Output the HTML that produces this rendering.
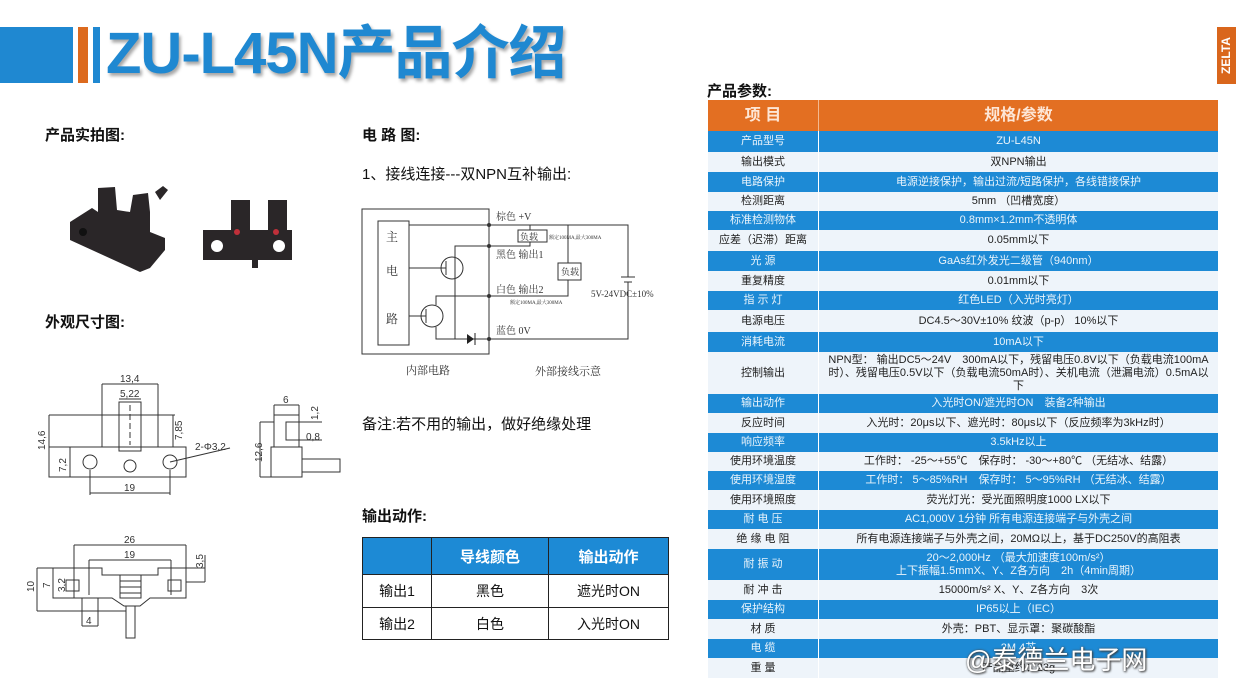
<!DOCTYPE html>
<html><head><meta charset="utf-8"><style>
*{margin:0;padding:0;box-sizing:border-box}
body{width:1242px;height:699px;background:#fff;position:relative;overflow:hidden;font-family:"Liberation Sans","Noto Sans CJK SC",sans-serif;color:#111}
.a{position:absolute;white-space:nowrap}
.h{font-weight:bold;font-size:15px}
.tr{position:absolute;left:708px;width:510px;display:flex;font-size:11px;color:#222}
.tr div{display:flex;align-items:center;justify-content:center;text-align:center;line-height:13px}
.tr .c1{width:111px;border-right:1px solid #fff}
.tr .c2{flex:1;padding:0 6px}
.b{background:#1d8ad5;color:#eaf4fb}
.l{background:#eef4fa}
.ot{position:absolute;left:362px;top:537px;width:307px;height:103px;border:1px solid #222}
.ot div{position:absolute;display:flex;align-items:center;justify-content:center;font-size:14px}
</style></head><body>
<div class="a" style="left:0;top:27px;width:73px;height:56px;background:#1f88d1"></div>
<div class="a" style="left:78px;top:27px;width:10px;height:56px;background:#dc6a1e"></div>
<div class="a" style="left:93px;top:27px;width:7px;height:56px;background:#1f88d1"></div>
<div class="a" style="left:106px;top:20px;font-size:58px;font-weight:bold;color:#1f88d1;letter-spacing:-1px;text-shadow:2px 3px 3px rgba(0,0,0,.35);line-height:68px">ZU-L45N产品介绍</div>
<div class="a" style="left:1217px;top:27px;width:19px;height:57px;background:#d9661c"></div>
<div class="a" style="left:1198px;top:47px;width:57px;height:17px;transform:rotate(-90deg);color:#fff;font-weight:bold;font-size:12px;text-align:center;line-height:17px">ZELTA</div>

<div class="a h" style="left:45px;top:124px">产品实拍图:</div>
<div class="a h" style="left:45px;top:311px">外观尺寸图:</div>
<div class="a h" style="left:362px;top:124px">电 路 图:</div>
<div class="a" style="left:362px;top:163px;font-size:15px">1、接线连接---双NPN互补输出:</div>
<div class="a" style="left:362px;top:413px;font-size:15px">备注:若不用的输出，做好绝缘处理</div>
<div class="a h" style="left:362px;top:505px">输出动作:</div>
<div class="a h" style="left:707px;top:80px">产品参数:</div>

<svg class="a" style="left:0;top:0" width="700" height="699">
<g fill="#2a2628">
<polygon points="70,222 92,208 98,212 98,188 115,187 117,210 130,212 133,195 148,193 150,212 150,232 165,238 165,250 150,268 140,272 70,240"/>
<polygon points="155,192 163,186 168,190 160,200"/>
<rect x="203" y="230" width="89" height="30"/>
<rect x="231" y="200" width="19" height="32"/>
<rect x="268" y="200" width="19" height="32"/>
<rect x="252" y="258" width="6" height="10"/>
</g>
<circle cx="217" cy="246" r="6" fill="#fff"/><circle cx="279" cy="246" r="6" fill="#fff"/>
<circle cx="237" cy="232" r="3" fill="#c0303a"/><circle cx="276" cy="232" r="3" fill="#c0303a"/>
<circle cx="83" cy="232" r="4" fill="#111"/>
<g fill="none" stroke="#333" stroke-width="1">
<rect x="49" y="447" width="137" height="30"/>
<rect x="102" y="415" width="56" height="32"/>
<rect x="119" y="402" width="22" height="49"/>
<line x1="130" y1="405" x2="130" y2="445" stroke-dasharray="6,3"/>
<circle cx="90" cy="462" r="7"/><circle cx="130" cy="466" r="6"/><circle cx="170" cy="462" r="7"/>
<line x1="102" y1="384" x2="158" y2="384"/><line x1="102" y1="384" x2="102" y2="415"/><line x1="158" y1="384" x2="158" y2="415"/>
<line x1="119" y1="399" x2="141" y2="399"/>
<line x1="49" y1="415" x2="102" y2="415"/><line x1="49" y1="415" x2="49" y2="477"/>
<line x1="70" y1="447" x2="70" y2="477"/>
<line x1="90" y1="470" x2="90" y2="495"/><line x1="170" y1="470" x2="170" y2="495"/><line x1="90" y1="493" x2="170" y2="493"/>
<line x1="158" y1="415" x2="175" y2="415"/><line x1="173" y1="415" x2="173" y2="447"/>
<line x1="170" y1="462" x2="230" y2="448"/>
<rect x="274" y="415" width="25" height="32"/>
<rect x="271" y="447" width="31" height="30"/>
<rect x="286" y="422" width="13" height="18"/>
<rect x="302" y="459" width="38" height="13"/>
<line x1="274" y1="405" x2="299" y2="405"/><line x1="274" y1="405" x2="274" y2="415"/><line x1="299" y1="405" x2="299" y2="415"/>
<line x1="260" y1="422" x2="274" y2="422"/><line x1="260" y1="422" x2="260" y2="477"/><line x1="260" y1="477" x2="271" y2="477"/>
<line x1="299" y1="422" x2="322" y2="422"/><line x1="299" y1="440" x2="322" y2="440"/>
<polygon points="53,568 102,568 102,575 158,575 158,568 186,568 186,598 150,598 140,606 124,606 112,598 53,598"/>
<rect x="120" y="575" width="21" height="23"/>
<line x1="120" y1="581" x2="141" y2="581"/><line x1="120" y1="587" x2="141" y2="587"/><line x1="120" y1="593" x2="141" y2="593"/>
<rect x="66" y="580" width="13" height="11"/><rect x="168" y="580" width="13" height="11"/>
<rect x="126" y="606" width="9" height="32"/>
<line x1="74" y1="545" x2="186" y2="545"/><line x1="74" y1="545" x2="74" y2="598"/><line x1="186" y1="545" x2="186" y2="568"/>
<line x1="89" y1="560" x2="171" y2="560"/><line x1="89" y1="560" x2="89" y2="595"/><line x1="171" y1="560" x2="171" y2="595"/>
<line x1="37" y1="568" x2="37" y2="611"/><line x1="37" y1="611" x2="126" y2="611"/><line x1="37" y1="568" x2="53" y2="568"/>
<line x1="82" y1="598" x2="82" y2="626"/><line x1="98" y1="598" x2="98" y2="626"/><line x1="82" y1="626" x2="98" y2="626"/>
<line x1="186" y1="568" x2="205" y2="568"/><line x1="186" y1="582" x2="205" y2="582"/><line x1="205" y1="555" x2="205" y2="582"/>
<rect x="362" y="209" width="127" height="145"/>
<rect x="378" y="221" width="31" height="124"/>
<polyline points="409,225 628,225 628,277"/>
<line x1="621" y1="277" x2="635" y2="277"/><line x1="624" y1="282" x2="632" y2="282"/>
<polyline points="628,282 628,339 489,339"/>
<polyline points="530,225 530,230"/><rect x="518" y="230" width="29" height="12"/>
<polyline points="530,242 530,246 455,246 455,278"/>
<polyline points="568,225 568,263"/><rect x="558" y="263" width="23" height="17"/>
<polyline points="568,280 568,296 436,296 436,305"/>
<circle cx="452" cy="268" r="11"/><circle cx="432" cy="316" r="11"/>
<line x1="409" y1="268" x2="446" y2="268"/><line x1="409" y1="316" x2="426" y2="316"/>
<line x1="446" y1="261" x2="446" y2="275"/><line x1="426" y1="309" x2="426" y2="323"/>
<polyline points="455,278 455,339"/><polyline points="436,327 436,339 470,339"/>
<line x1="470" y1="339" x2="489" y2="339"/>
</g>
<polygon points="467,334 467,344 474,339" fill="#222"/><line x1="475" y1="333" x2="475" y2="345" stroke="#222"/>
<g fill="#333"><circle cx="489" cy="225" r="2"/><circle cx="489" cy="246" r="2"/><circle cx="489" cy="296" r="2"/><circle cx="489" cy="339" r="2"/></g>
<g font-family="Liberation Serif,Noto Serif CJK SC,serif" font-size="10" fill="#333">
<text x="496" y="220">棕色 +V</text><text x="496" y="258">黑色  输出1</text><text x="496" y="293">白色  输出2</text><text x="496" y="334">蓝色  0V</text>
<text x="520" y="240" font-size="9">负载</text><text x="561" y="275" font-size="9">负载</text>
<text x="549" y="239" font-size="5">额定100MA,最大300MA</text><text x="510" y="304" font-size="5">额定100MA,最大300MA</text>
<text x="591" y="297" font-size="9">5V-24VDC±10%</text>
<text x="386" y="241" font-size="12">主</text><text x="386" y="275" font-size="12">电</text><text x="386" y="323" font-size="12">路</text>
<text x="406" y="374" font-size="11">内部电路</text><text x="535" y="375" font-size="11">外部接线示意</text>
</g>
<g font-size="10" fill="#333" font-family="Liberation Sans,sans-serif">
<text x="120" y="382">13,4</text><text x="120" y="397">5,22</text><text x="124" y="491">19</text><text x="195" y="450">2-Φ3,2</text>
<text x="45" y="450" transform="rotate(-90 45 450)">14,6</text><text x="66" y="472" transform="rotate(-90 66 472)">7,2</text><text x="182" y="440" transform="rotate(-90 182 440)">7,85</text>
<text x="283" y="403">6</text><text x="306" y="440">0,8</text><text x="318" y="420" transform="rotate(-90 318 420)">1,2</text><text x="262" y="462" transform="rotate(-90 262 462)">12,6</text>
<text x="124" y="543">26</text><text x="124" y="558">19</text><text x="86" y="624">4</text>
<text x="34" y="592" transform="rotate(-90 34 592)">10</text><text x="50" y="588" transform="rotate(-90 50 588)">7</text><text x="65" y="592" transform="rotate(-90 65 592)">3,2</text><text x="203" y="568" transform="rotate(-90 203 568)">3,5</text>
</g>
</svg>

<div class="ot">
<div style="left:0;top:0;width:305px;height:36px;background:#1d8ad5"></div>
<div style="left:68px;top:0;width:1px;height:101px;background:#222"></div>
<div style="left:185px;top:0;width:1px;height:101px;background:#222"></div>
<div style="left:0;top:36px;width:305px;height:1px;background:#222"></div>
<div style="left:0;top:69px;width:305px;height:1px;background:#222"></div>
<div style="left:69px;top:0;width:116px;height:36px;color:#fff;font-weight:bold;font-size:15px">导线颜色</div>
<div style="left:186px;top:0;width:119px;height:36px;color:#fff;font-weight:bold;font-size:15px">输出动作</div>
<div style="left:0;top:37px;width:68px;height:32px">输出1</div>
<div style="left:69px;top:37px;width:116px;height:32px">黑色</div>
<div style="left:186px;top:37px;width:119px;height:32px">遮光时ON</div>
<div style="left:0;top:70px;width:68px;height:31px">输出2</div>
<div style="left:69px;top:70px;width:116px;height:31px">白色</div>
<div style="left:186px;top:70px;width:119px;height:31px">入光时ON</div>
</div>

<div class="tr" style="top:100px;height:31px;background:#e36f22;color:#fde6d6;font-size:16px;font-weight:bold"><div class="c1" style="border-right-color:#f3b990">项 目</div><div class="c2">规格/参数</div></div>
<div class="tr b" style="top:131px;height:21px"><div class="c1">产品型号</div><div class="c2">ZU-L45N</div></div>
<div class="tr l" style="top:152px;height:20px"><div class="c1">输出模式</div><div class="c2">双NPN输出</div></div>
<div class="tr b" style="top:172px;height:20px"><div class="c1">电路保护</div><div class="c2">电源逆接保护，输出过流/短路保护，各线错接保护</div></div>
<div class="tr l" style="top:192px;height:19px"><div class="c1">检测距离</div><div class="c2">5mm （凹槽宽度）</div></div>
<div class="tr b" style="top:211px;height:19px"><div class="c1">标准检测物体</div><div class="c2">0.8mm×1.2mm不透明体</div></div>
<div class="tr l" style="top:230px;height:21px"><div class="c1">应差（迟滞）距离</div><div class="c2">0.05mm以下</div></div>
<div class="tr b" style="top:251px;height:20px"><div class="c1">光 源</div><div class="c2">GaAs红外发光二级管（940nm）</div></div>
<div class="tr l" style="top:271px;height:20px"><div class="c1">重复精度</div><div class="c2">0.01mm以下</div></div>
<div class="tr b" style="top:291px;height:19px"><div class="c1">指 示 灯</div><div class="c2">红色LED（入光时亮灯）</div></div>
<div class="tr l" style="top:310px;height:22px"><div class="c1">电源电压</div><div class="c2">DC4.5～30V±10% 纹波（p-p） 10%以下</div></div>
<div class="tr b" style="top:332px;height:20px"><div class="c1">消耗电流</div><div class="c2">10mA以下</div></div>
<div class="tr l" style="top:352px;height:42px"><div class="c1">控制输出</div><div class="c2" style="white-space:normal">NPN型： 输出DC5～24V　300mA以下，残留电压0.8V以下（负载电流100mA时）、残留电压0.5V以下（负载电流50mA时）、关机电流（泄漏电流）0.5mA以下</div></div>
<div class="tr b" style="top:394px;height:19px"><div class="c1">输出动作</div><div class="c2">入光时ON/遮光时ON　装备2种输出</div></div>
<div class="tr l" style="top:413px;height:20px"><div class="c1">反应时间</div><div class="c2">入光时：20μs以下、遮光时：80μs以下（反应频率为3kHz时）</div></div>
<div class="tr b" style="top:433px;height:19px"><div class="c1">响应频率</div><div class="c2">3.5kHz以上</div></div>
<div class="tr l" style="top:452px;height:19px"><div class="c1">使用环境温度</div><div class="c2">工作时： -25～+55℃　保存时： -30～+80℃ （无结冰、结露）</div></div>
<div class="tr b" style="top:471px;height:19px"><div class="c1">使用环境湿度</div><div class="c2">工作时： 5～85%RH　保存时： 5～95%RH （无结冰、结露）</div></div>
<div class="tr l" style="top:490px;height:20px"><div class="c1">使用环境照度</div><div class="c2">荧光灯光：受光面照明度1000 LX以下</div></div>
<div class="tr b" style="top:510px;height:19px"><div class="c1">耐 电 压</div><div class="c2">AC1,000V 1分钟 所有电源连接端子与外壳之间</div></div>
<div class="tr l" style="top:529px;height:20px"><div class="c1">绝 缘 电 阻</div><div class="c2">所有电源连接端子与外壳之间，20MΩ以上，基于DC250V的高阻表</div></div>
<div class="tr b" style="top:549px;height:31px"><div class="c1">耐 振 动</div><div class="c2">20～2,000Hz （最大加速度100m/s²）<br>上下振幅1.5mmX、Y、Z各方向　2h（4min周期）</div></div>
<div class="tr l" style="top:580px;height:20px"><div class="c1">耐 冲 击</div><div class="c2">15000m/s² X、Y、Z各方向　3次</div></div>
<div class="tr b" style="top:600px;height:19px"><div class="c1">保护结构</div><div class="c2">IP65以上（IEC）</div></div>
<div class="tr l" style="top:619px;height:20px"><div class="c1">材 质</div><div class="c2">外壳：PBT、显示罩：聚碳酸酯</div></div>
<div class="tr b" style="top:639px;height:19px"><div class="c1">电 缆</div><div class="c2">2M 4芯</div></div>
<div class="tr l" style="top:658px;height:20px"><div class="c1">重 量</div><div class="c2">产品重约：23g</div></div>
<div class="a" style="left:965px;top:640px;font-size:26px;color:#fff;text-shadow:0 0 2px #555,1px 1px 2px #333">@泰德兰电子网</div>
</body></html>
